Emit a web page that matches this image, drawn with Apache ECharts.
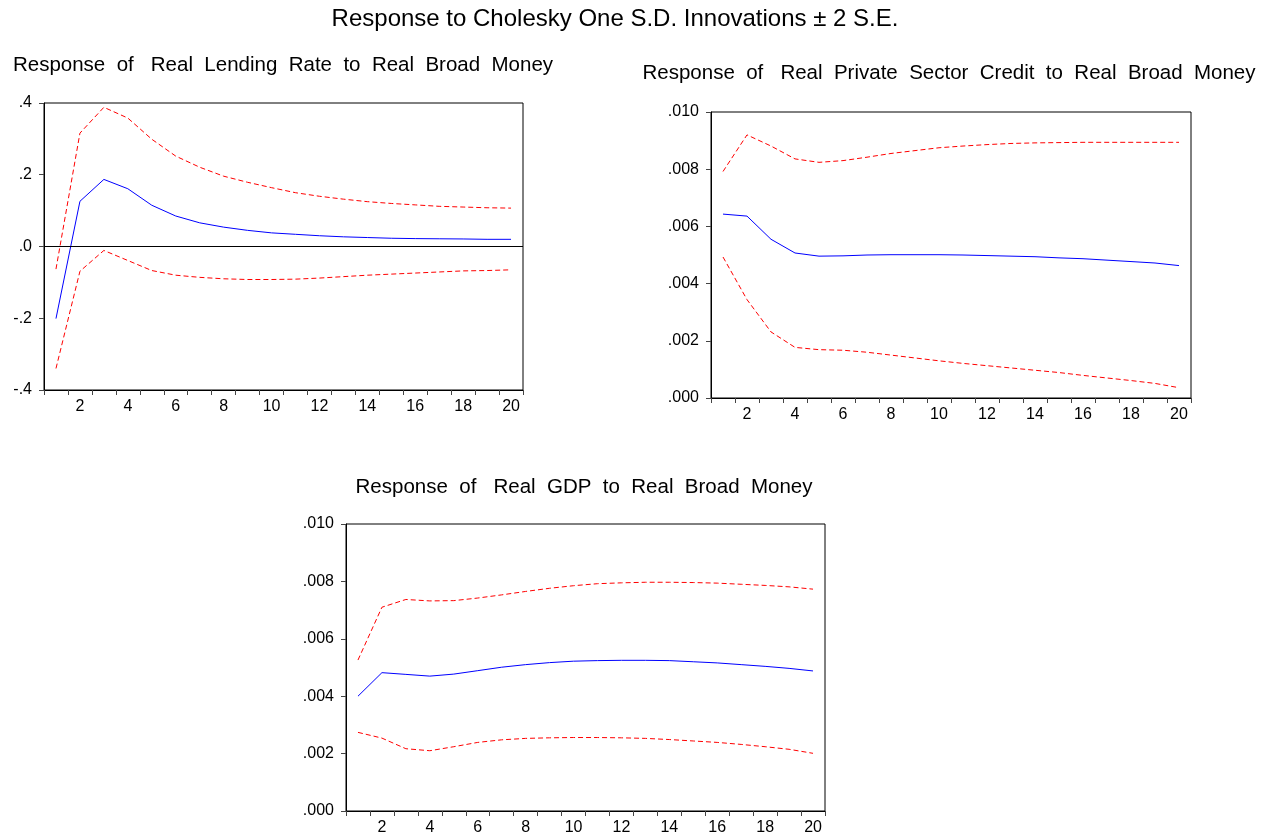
<!DOCTYPE html>
<html>
<head>
<meta charset="utf-8">
<script src="https://cdn.jsdelivr.net/npm/echarts@6/dist/echarts.min.js"></script>
<style>
  html, body { margin: 0; padding: 0; background: #fff; }
  #chart { width: 1276px; height: 838px; }
</style>
</head>
<body>
<div id="chart"></div>
<script>
// periods 1..20
var periods = ["1","2","3","4","5","6","7","8","9","10","11","12","13","14","15","16","17","18","19","20"];

// Real Lending Rate
var lendResp  = [-0.201, 0.126, 0.187, 0.161, 0.115, 0.085, 0.066, 0.054, 0.045, 0.038, 0.034, 0.030, 0.027, 0.025, 0.023, 0.022, 0.0215, 0.021, 0.020, 0.020];
var lendUpper = [-0.063, 0.316, 0.388, 0.358, 0.299, 0.252, 0.221, 0.196, 0.179, 0.164, 0.150, 0.140, 0.132, 0.125, 0.120, 0.116, 0.112, 0.110, 0.108, 0.107];
var lendLower = [-0.340, -0.069, -0.011, -0.039, -0.067, -0.080, -0.086, -0.090, -0.092, -0.092, -0.091, -0.088, -0.084, -0.080, -0.077, -0.074, -0.071, -0.068, -0.067, -0.065];

// Real Private Sector Credit
var creditResp  = [0.00643, 0.00636, 0.00555, 0.00507, 0.00496, 0.00497, 0.00500, 0.00501, 0.00501, 0.00501, 0.00500, 0.00498, 0.00496, 0.00494, 0.00490, 0.00487, 0.00482, 0.00477, 0.00472, 0.00463];
var creditUpper = [0.00792, 0.00920, 0.00881, 0.00836, 0.00824, 0.00830, 0.00842, 0.00855, 0.00865, 0.00875, 0.00881, 0.00886, 0.00890, 0.00892, 0.00893, 0.00894, 0.00894, 0.00894, 0.00894, 0.00894];
var creditLower = [0.00493, 0.00344, 0.00231, 0.00177, 0.00169, 0.00167, 0.00160, 0.00150, 0.00140, 0.00130, 0.00121, 0.00113, 0.00105, 0.00097, 0.00089, 0.00079, 0.00070, 0.00061, 0.00051, 0.00036];

// Real GDP
var gdpResp  = [0.00400, 0.00482, 0.00476, 0.00470, 0.00477, 0.00489, 0.00501, 0.00510, 0.00517, 0.00522, 0.00524, 0.00525, 0.00525, 0.00524, 0.00520, 0.00516, 0.00510, 0.00504, 0.00497, 0.00488];
var gdpUpper = [0.00526, 0.00710, 0.00737, 0.00732, 0.00733, 0.00742, 0.00753, 0.00765, 0.00776, 0.00785, 0.00792, 0.00795, 0.00797, 0.00797, 0.00796, 0.00794, 0.00790, 0.00786, 0.00781, 0.00773];
var gdpLower = [0.00274, 0.00254, 0.00217, 0.00210, 0.00224, 0.00239, 0.00248, 0.00253, 0.00255, 0.00256, 0.00256, 0.00255, 0.00253, 0.00249, 0.00244, 0.00239, 0.00232, 0.00224, 0.00215, 0.00201];

var FONT = "Liberation Sans";

// 去掉前导0，EViews 风格 .4 / -.2 / .000
function stripZero(digits) {
  return function (v) {
    return v.toFixed(digits).replace("0.", ".");
  };
}

// EViews 标题字距偏宽，用加宽的空格近似（"of" 后面多一格）
function wide(s) {
  return s.replace(/ /g, "  ").replace("of  ", "of   ");
}

function xAxisOf(gridIndex) {
  return {
    type: "category",
    gridIndex: gridIndex,
    data: periods,
    boundaryGap: true,
    axisLine: { onZero: false, lineStyle: { color: "#000", width: 1 } },
    axisTick: { show: true, interval: 0, length: 5, lineStyle: { color: "#444" } },
    axisLabel: {
      interval: function (i) { return i % 2 === 1; },
      color: "#000",
      fontFamily: FONT,
      fontSize: 16,
      margin: 9
    },
    splitLine: { show: false }
  };
}

function yAxisOf(gridIndex, min, max, interval, digits) {
  return {
    type: "value",
    gridIndex: gridIndex,
    min: min,
    max: max,
    interval: interval,
    axisLine: { show: true, lineStyle: { color: "#000", width: 1 } },
    axisTick: { show: true, length: 5, lineStyle: { color: "#444" } },
    axisLabel: {
      formatter: stripZero(digits),
      color: "#000",
      fontFamily: FONT,
      fontSize: 16,
      margin: 12
    },
    splitLine: { show: false }
  };
}

function lineOf(idx, data, isBand) {
  return {
    type: "line",
    xAxisIndex: idx,
    yAxisIndex: idx,
    data: data,
    showSymbol: false,
    symbol: "none",
    animation: false,
    silent: true,
    lineStyle: isBand
      ? { color: "#FF0000", width: 1, type: [5, 3] }
      : { color: "#0000FF", width: 1, type: "solid" }
  };
}

var chart = echarts.init(document.getElementById("chart"));

var lendMain = lineOf(0, lendResp, false);
// 零线
lendMain.markLine = {
  silent: true,
  symbol: "none",
  label: { show: false },
  lineStyle: { color: "#000", width: 1, type: "solid" },
  data: [{ yAxis: 0 }]
};

var subTitleStyle = { fontFamily: FONT, fontSize: 20.5, fontWeight: "normal", color: "#000" };

var option = {
  backgroundColor: "#fff",
  animation: false,
  title: [
    {
      text: "Response to Cholesky One S.D. Innovations \u00B1 2 S.E.",
      left: 615, top: 7, textAlign: "center", padding: 0,
      textStyle: { fontFamily: FONT, fontSize: 24, fontWeight: "normal", color: "#000" }
    },
    {
      text: wide("Response of Real Lending Rate to Real Broad Money"),
      left: 283, top: 55, textAlign: "center", padding: 0,
      textStyle: subTitleStyle
    },
    {
      text: wide("Response of Real Private Sector Credit to Real Broad Money"),
      left: 949, top: 63, textAlign: "center", padding: 0,
      textStyle: subTitleStyle
    },
    {
      text: wide("Response of Real GDP to Real Broad Money"),
      left: 584, top: 477, textAlign: "center", padding: 0,
      textStyle: subTitleStyle
    }
  ],
  grid: [
    { left: 44, top: 103, width: 479, height: 287, show: true, borderColor: "#000", borderWidth: 1, backgroundColor: "#fff" },
    { left: 711, top: 112, width: 480, height: 286, show: true, borderColor: "#000", borderWidth: 1, backgroundColor: "#fff" },
    { left: 346, top: 524, width: 479, height: 287, show: true, borderColor: "#000", borderWidth: 1, backgroundColor: "#fff" }
  ],
  xAxis: [xAxisOf(0), xAxisOf(1), xAxisOf(2)],
  yAxis: [
    yAxisOf(0, -0.4, 0.4, 0.2, 1),
    yAxisOf(1, 0, 0.010, 0.002, 3),
    yAxisOf(2, 0, 0.010, 0.002, 3)
  ],
  series: [
    lendMain,
    lineOf(0, lendUpper, true),
    lineOf(0, lendLower, true),
    lineOf(1, creditResp, false),
    lineOf(1, creditUpper, true),
    lineOf(1, creditLower, true),
    lineOf(2, gdpResp, false),
    lineOf(2, gdpUpper, true),
    lineOf(2, gdpLower, true)
  ]
};

chart.setOption(option);
</script>
</body>
</html>
